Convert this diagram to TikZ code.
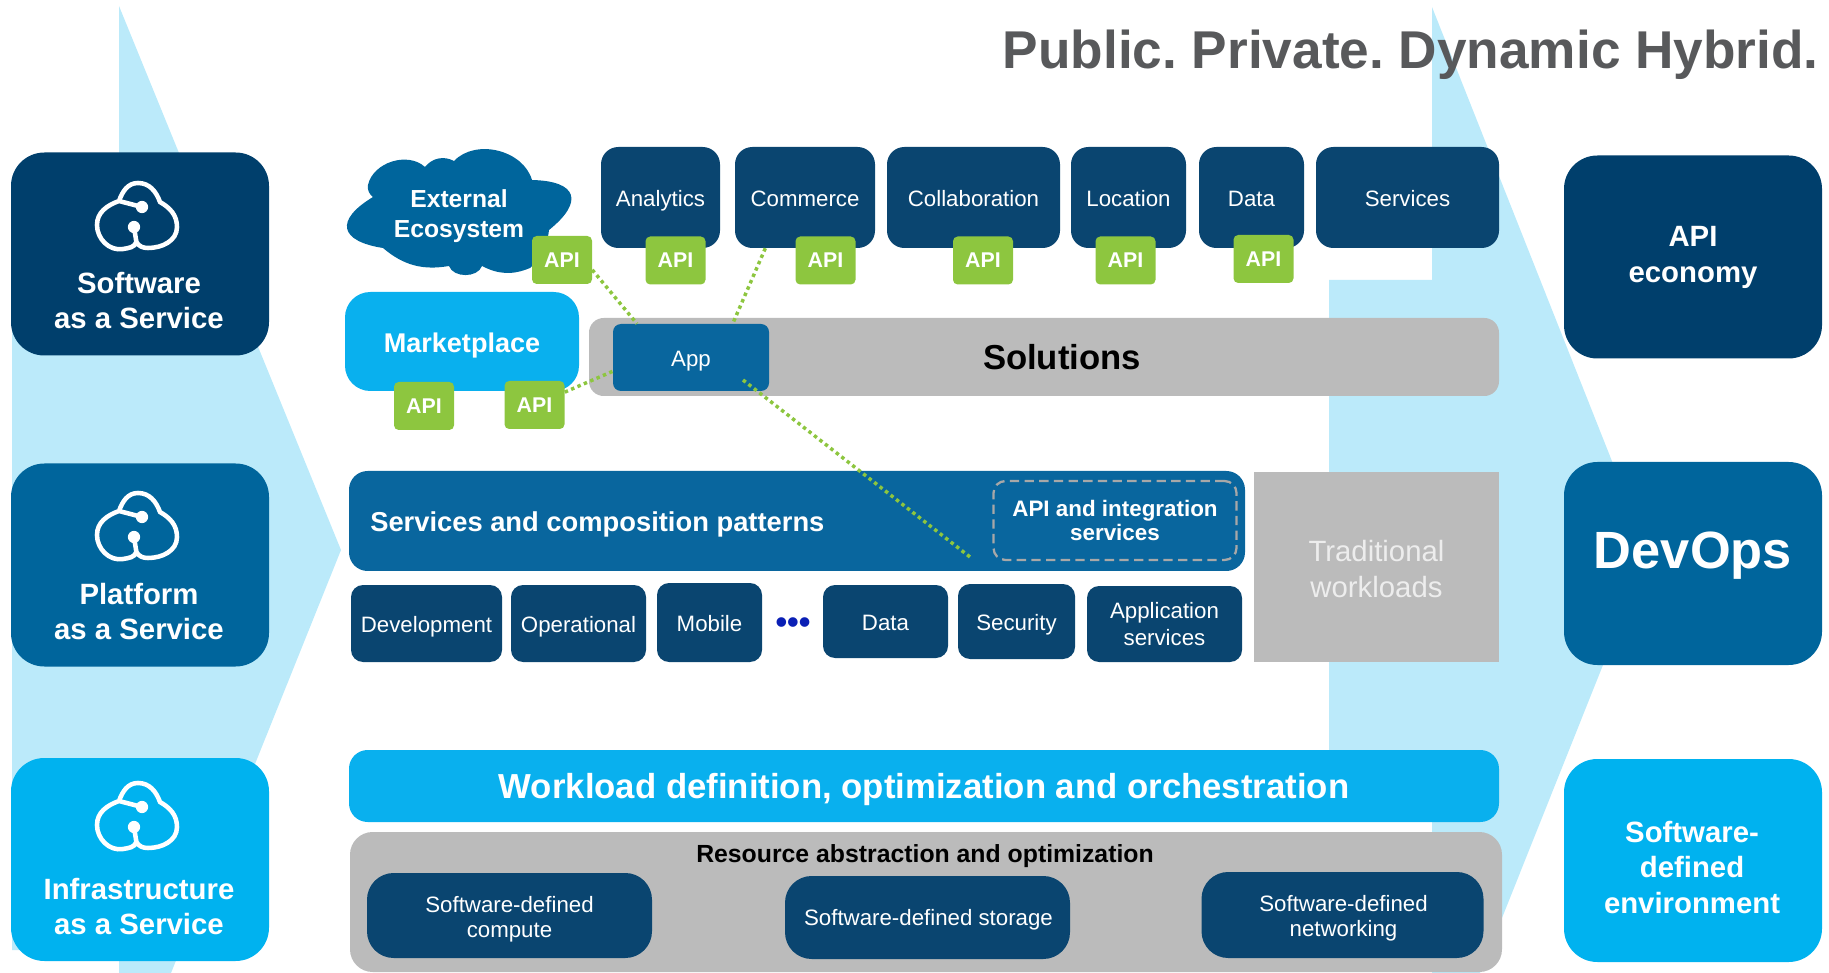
\documentclass[tikz,border=0pt]{standalone}
\usepackage{fontspec}
\setmainfont{Liberation Sans}
\definecolor{tint}{HTML}{BBEAFA}
\definecolor{navy}{HTML}{003F6C}
\definecolor{slate}{HTML}{0A4570}
\definecolor{midblue}{HTML}{00659C}
\definecolor{bar}{HTML}{09669E}
\definecolor{sky}{HTML}{00B2EF}
\definecolor{skybar}{HTML}{09B0EE}
\definecolor{stone}{HTML}{BBBBBB}
\definecolor{apigreen}{HTML}{8DC63F}
\definecolor{heading}{HTML}{58595B}
\definecolor{dotblue}{HTML}{0A1FB5}
\newcommand{\fs}[2]{\fontsize{#1pt}{#2pt}\selectfont}
\tikzset{
  sized/.style 2 args={minimum width=#1*0.75pt, minimum height=#2*0.75pt},
  oneline/.style={text height=#1, text depth=0pt},
  box/.style={inner sep=0pt, align=center, text=white},
  bigbox/.style={box, rounded corners=25pt, sized={258}{203}},
  topbox/.style={box, fill=slate, rounded corners=13pt, font=\fs{16.7}{20}, oneline=14.2pt},
  midbox/.style={box, fill=slate, rounded corners=9pt, font=\fs{16.7}{20}},
  lowbox/.style={box, fill=slate, rounded corners=20pt},
  lowtext/.style={box, font=\fs{16.7}{18.7}},
  apitag/.style={box, fill=apigreen, rounded corners=3.5pt, sized={60}{48}, font=\bfseries\fs{16}{19}},
  biglabel/.style={box, font=\bfseries\fs{22}{26.4}},
  apilink/.style={apigreen, line width=2.6pt, dash pattern=on 2.6pt off 2.6pt},
  cloudicon/.pic={
    \draw[white, line width=3.4pt] (4,-18) -- (-19,-24)
      to[out=200,in=90] (-41,0) to[out=-90,in=190] (-15,24) to[out=10,in=-110] (-1.6,17)
      to[out=-60,in=180] (10,23) to[out=0,in=-90] (39,2) to[out=90,in=-30] (22,-23)
      to[out=110,in=0] (0,-42) to[out=180,in=70] (-19,-24);
    \draw[white, line width=3.4pt] (-1.6,17) -- (-4,2);
    \fill[white] (4,-18) circle (4.6pt) (-4,2) circle (4.6pt);
  }
}
\frenchspacing
\begin{document}
\begin{tikzpicture}[x=0.75pt, y=-0.75pt]
  \useasboundingbox (0,0) rectangle (1829,973);

  % the two arrows behind everything
  \fill[tint] (119,6) -- (341,550) -- (171,973) -- (119,973) -- (119,950) -- (12,950)
              -- (12,200) -- (119,200) -- cycle;
  \fill[tint] (1432,7) -- (1646,547) -- (1603,665) -- (1480,973) -- (1432,973) -- (1432,816)
              -- (1329,816) -- (1329,280) -- (1432,280) -- cycle;

  \node[font=\bfseries\fs{39.9}{48}, text=heading, anchor=base east, inner sep=0pt] (title) at (1819,69)
       {Public. Private. Dynamic Hybrid.};

  % left column
  \node[bigbox, fill=navy] (saas) at (140,254) {};
  \node[bigbox, fill=midblue] (paas) at (140,565) {};
  \node[bigbox, fill=sky] (iaas) at (140,859.5) {};
  \foreach \p/\y in {saasicon/225, paasicon/535, iaasicon/825} {
    \pic (\p) at (138,\y) {cloudicon};
  }
  \node[biglabel] (saastext) at (139,300.5) {Software\\as a Service};
  \node[biglabel] (paastext) at (139,611.5) {Platform\\as a Service};
  \node[biglabel] (iaastext) at (139,906.5) {Infrastructure\\as a Service};

  % right column
  \node[bigbox, fill=navy] (apieco) at (1693,257) {};
  \node[bigbox, fill=midblue] (devops) at (1693,563.5) {};
  \node[bigbox, fill=sky] (sde) at (1693,860.5) {};
  \node[biglabel] (apiecotext) at (1693,257.5) {API\\economy};
  \node[box, font=\bfseries\fs{39.3}{47}] (devopstext) at (1693,555.5) {DevOps};
  \node[biglabel] (sdetext) at (1692,867.5) {Software-\\defined\\environment};

  % cloud
  \fill[midblue] (368,185) to[bend left=60] (425,167) to[bend left=40] (454,161)
     to[bend left=60] (532,180) to[bend left=70,looseness=2.2] (549,230) to[bend left=20] (530,268)
     to[bend left=25] (482,266) to[bend left=70] (449,266) to[bend left=25] (383,248)
     to[bend left=70,looseness=2.2] (373,197) to[bend left=30] cycle;
  \node[box, font=\bfseries\fs{18.5}{22.5}] (ecosystem) at (459,216) {External\\Ecosystem};

  % top row
  \foreach \n/\x/\w/\t in {analytics/660.5/119/Analytics, commerce/805/140/Commerce,
      collab/973.5/173/Collaboration, location/1128.5/115/Location, datatop/1251.5/105/Data,
      services/1407.5/183/Services} {
    \node[topbox, sized={\w}{101}] (\n) at (\x,197.5) {\t};
  }

  \node[box, fill=skybar, rounded corners=19pt, sized={234}{99}, font=\bfseries\fs{20.3}{24}, oneline=16.5pt] (market) at (462,341.5) {Marketplace};
  \node[box, fill=stone, rounded corners=11pt, sized={910}{78}] (solbar) at (1044,357) {};
  \node[box, text=black, font=\bfseries\fs{26}{31}] (solutions) at (1062,357.5) {Solutions};
  \node[box, fill=bar, rounded corners=6pt, sized={156}{67}, font=\fs{16.7}{20}, oneline=12.8pt] (app) at (691,357.5) {App};

  % API tags
  \foreach \n/\x/\y in {apiE/562/260, apiA/675.5/260.5, apiC/825.5/260.5, apiL/983/260.5,
      apiO/1125.5/260.5, apiD/1263.5/259, apiM/424/406, apiN/534.5/405} {
    \node[apitag] (\n) at (\x,\y) {API};
  }

  % services and patterns
  \node[box, fill=bar, rounded corners=14pt, sized={896}{100}] (patterns) at (797,521) {};
  \node[box, font=\bfseries\fs{20.5}{24}, anchor=west] (patternstext) at (370,524.5) {Services and composition patterns};
  \node[box, draw=stone!90!black, line width=1.7pt, dash pattern=on 7pt off 4pt, rounded corners=9pt,
        sized={243}{79}, font=\bfseries\fs{16.8}{18}] (apiint) at (1115,520.5) {API and integration\\services};

  \foreach \n/\x/\y/\w/\h/\t in {dev/426.5/623.5/151/77/Development, oper/578.5/623.5/135/77/Operational,
      mobile/709.5/622.5/105/79/Mobile, datamid/885.5/621.5/125/73/Data,
      security/1016.5/621.5/117/75/Security} {
    \node[midbox, oneline=12.8pt, sized={\w}{\h}] (\n) at (\x,\y) {\t};
  }
  \node[midbox, sized={155}{76}] (appserv) at (1164.5,624) {Application\\services};
  \node[box, text=dotblue, font=\bfseries\fs{25}{30}] (dots) at (793,626) {•••};

  \node[box, fill=stone, sized={245}{190}] (trad) at (1376.5,567) {};
  \node[box, text=white!93!black, font=\fs{22}{27.5}] (tradtext) at (1376.5,569) {Traditional\\workloads};

  % bottom bars
  \node[box, fill=skybar, rounded corners=14pt, sized={1150}{72}, font=\bfseries\fs{26.05}{32}, oneline=19pt] (workload) at (924,786) {Workload definition, optimization and orchestration};
  \node[box, fill=stone, rounded corners=17pt, sized={1152}{140}] (resbar) at (926,902) {};
  \node[box, text=black, font=\bfseries\fs{18.6}{22}] (restext) at (925,856.5) {Resource abstraction and optimization};
  \node[lowbox, sized={285}{85}] (compute) at (509.5,915.5) {};
  \node[lowbox, sized={285}{83}] (storage) at (927.5,917.5) {};
  \node[lowbox, sized={282}{86}] (network) at (1342.5,915) {};
  \node[lowtext] (computetext) at (509.5,919) {Software-defined\\compute};
  \node[lowtext] (storagetext) at (928.5,920) {Software-defined storage};
  \node[lowtext] (networktext) at (1343.5,918) {Software-defined\\networking};

  % dotted links
  \coordinate (appin) at (743,380);
  \coordinate (apiend) at (970,557);
  \foreach \i/\j in {apiE.-18/app.148, commerce.-128/app.39, apiN.23/app.190, appin/apiend} {
    \draw[apilink] (\i) -- (\j);
  }
\end{tikzpicture}
\end{document}
